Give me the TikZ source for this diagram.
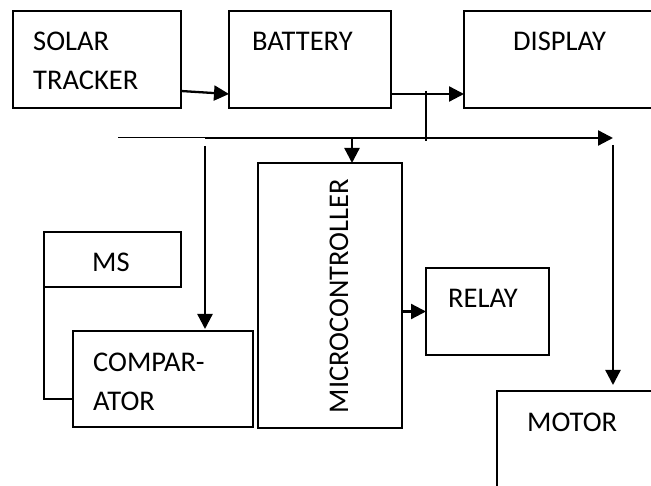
\documentclass[tikz,border=0pt]{standalone}
\usepackage{fontspec}
\setmainfont{Carlito}
\usetikzlibrary{arrows.meta, positioning, calc}

\begin{document}
\begin{tikzpicture}[x=1pt, y=-1pt,
    block/.style={rectangle, draw, line width=1.8pt, anchor=north west,
                  inner sep=0pt, outer sep=0pt},
    lbl/.style={anchor=north west, inner sep=0pt, align=left,
                font=\fontsize{28.5}{39}\selectfont},
    conn/.style={draw, -{Triangle[length=15pt,width=15pt]}, line width=2.3pt},
    wire/.style={draw, line width=1.6pt}
]
\useasboundingbox (0,0) rectangle (651,486);

% blocks
\node[block, minimum width=168pt, minimum height=97pt] (solar) at (13,11) {};
\node[block, minimum width=162pt, minimum height=97pt] (bat) at (229,11) {};
\node[block, minimum width=250pt, minimum height=97pt] (disp) at (464,11) {};
\node[block, minimum width=144pt, minimum height=265pt] (micro) at (258,163) {};
\node[block, minimum width=137pt, minimum height=55pt] (ms) at (44,232) {};
\node[block, minimum width=180pt, minimum height=96pt] (comp) at (73,331) {};
\node[block, minimum width=123pt, minimum height=87pt] (relay) at (426,268) {};
\node[block, minimum width=200pt, minimum height=150pt] (motor) at (497,391) {};

% labels
\node[lbl] (solartxt) at (33,32) {SOLAR\\TRACKER};
\node[lbl] (battxt) at (252,32) {BATTERY};
\node[lbl] (disptxt) at (513,32) {DISPLAY};
\node[lbl] (mstxt) at (92,253) {MS};
\node[lbl] (comptxt) at (93,353) {COMPAR-\\ATOR};
\node[lbl] (relaytxt) at (448,289) {RELAY};
\node[lbl] (motortxt) at (527,413) {MOTOR};
\node[lbl, anchor=center, rotate=90] (microtxt) at (339,296) {MICROCONTROLLER};

% bus points
\coordinate (busL) at (118,138);
\coordinate (busA) at (205,138);
\coordinate (busB) at (352,138);
\coordinate (busR) at (613,138);
\coordinate (tap) at (426,91);

% connectors
\draw[conn] ([yshift=17pt]solar.south east) -- ([yshift=14pt]bat.south west);
\draw[conn] ([yshift=14pt]bat.south east) -- ([yshift=14pt]disp.south west);
\draw[line width=1.8pt] (tap) -- ++(0,50);
\draw[line width=1pt] (busL) -- (busA);
\draw[conn] (busA) -- (busR);
\draw[conn] (busB) -- (busB |- micro.north);
\draw[conn] ([yshift=-8pt]busA) -- ([yshift=2pt]busA |- comp.north);
\draw[conn] ([yshift=-7pt]busR) -- ([yshift=6pt]busR |- motor.north);
\draw[conn] (micro.east |- relay.west) -- (relay.west);
\draw[wire] (ms.south west) |- ([yshift=28pt]comp.south west);

\end{tikzpicture}
\end{document}
